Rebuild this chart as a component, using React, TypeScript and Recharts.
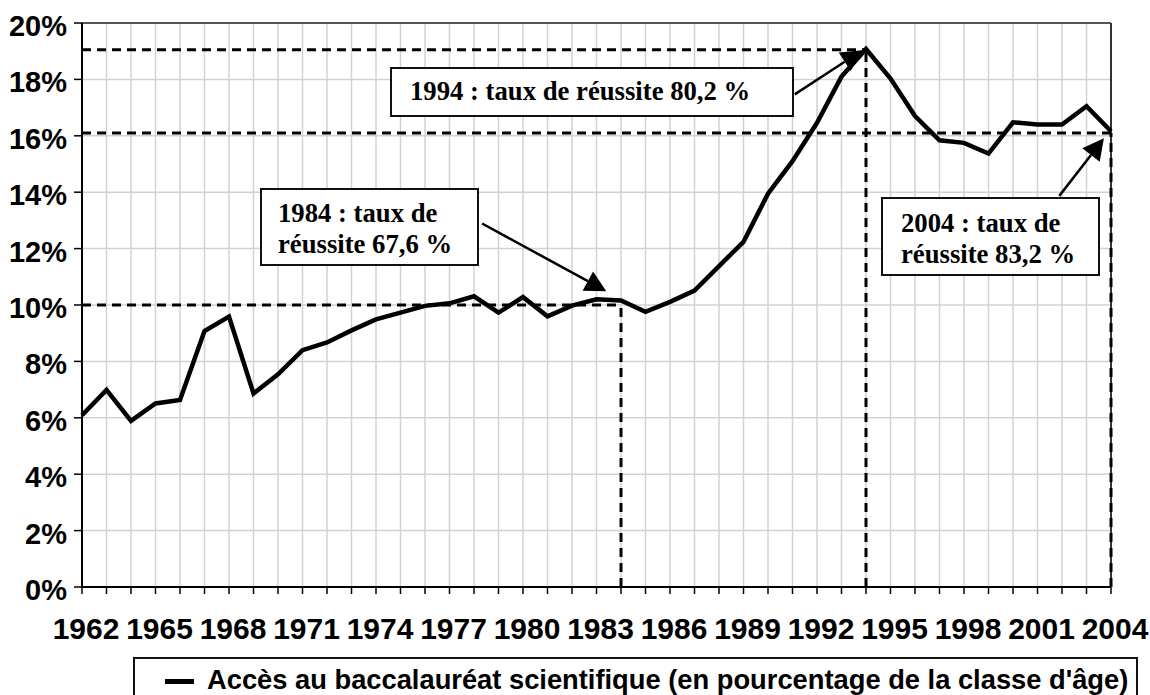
import { LineChart, Line, XAxis, YAxis, CartesianGrid, ReferenceLine } from 'recharts';

const years = [
  1962, 1963, 1964, 1965, 1966, 1967, 1968, 1969, 1970, 1971, 1972, 1973, 1974, 1975,
  1976, 1977, 1978, 1979, 1980, 1981, 1982, 1983, 1984, 1985, 1986, 1987, 1988, 1989,
  1990, 1991, 1992, 1993, 1994, 1995, 1996, 1997, 1998, 1999, 2000, 2001, 2002, 2003, 2004,
];
// accès au bac S, en % de la classe d'âge
const acces = [
  6.09, 6.99, 5.89, 6.51, 6.63, 9.08, 9.59, 6.86, 7.54, 8.4, 8.67, 9.1, 9.49, 9.73,
  9.97, 10.06, 10.31, 9.73, 10.28, 9.6, 9.98, 10.2, 10.16, 9.76, 10.11, 10.51, 11.38, 12.24,
  13.95, 15.1, 16.46, 18.1, 19.08, 18.03, 16.7, 15.84, 15.75, 15.37, 16.48, 16.4, 16.4, 17.05, 16.16,
];
const yTicks = [0, 2, 4, 6, 8, 10, 12, 14, 16, 18, 20];
const labelYears = [1962, 1965, 1968, 1971, 1974, 1977, 1980, 1983, 1986, 1989, 1992, 1995, 1998, 2001, 2004];

// repères pointillés
const markYears = [1984, 1994, 2004];
const markLevels = [10.0, 19.05, 16.1];

const note1984 = ['1984 : taux de', 'réussite 67,6 %'];
const note1994 = ['1994 : taux de réussite 80,2 %'];
const note2004 = ['2004 : taux de', 'réussite 83,2 %'];
const legendLabel = "Accès au baccalauréat scientifique (en pourcentage de la classe d'âge)";

const data = years.map((y, i) => ({ year: y, v: acces[i] }));

const sans = 'Liberation Sans, Arial, sans-serif';
const serif = 'Liberation Serif, "Times New Roman", serif';

const XTick = ({ x, y, payload }: any) =>
  labelYears.includes(payload.value) ? (
    <text x={x + 4} y={y} dy={45} textAnchor="middle" fontFamily={sans} fontWeight="bold" fontSize={30} fill="#000">
      {payload.value}
    </text>
  ) : null;

const YTick = ({ x, y, payload }: any) => (
  <text x={x} y={y} dy={13} textAnchor="end" fontFamily={sans} fontWeight="bold" fontSize={29} fill="#000">
    {payload.value}%
  </text>
);

const Arrow = (props: any) => {
  const { x1, y1, x2, y2 } = props;
  const dx = x2 - x1;
  const dy = y2 - y1;
  const len = Math.sqrt(dx * dx + dy * dy);
  const ux = dx / len;
  const uy = dy / len;
  const L = 21;
  const W = 11;
  const bx = x2 - ux * L;
  const by = y2 - uy * L;
  const pts = `${x2},${y2} ${bx - uy * W},${by + ux * W} ${bx + uy * W},${by - ux * W}`;
  return (
    <g>
      <line x1={x1} y1={y1} x2={bx} y2={by} stroke="#000" strokeWidth={2.5} />
      <polygon points={pts} fill="#000" />
    </g>
  );
};

const boxStyle = (left: number, top: number, width: number, height: number): any => ({
  position: 'absolute',
  left,
  top,
  width,
  height,
  boxSizing: 'border-box',
  border: '2px solid #111',
  background: '#fff',
  fontFamily: serif,
  fontWeight: 'bold',
  fontSize: 26.7,
  lineHeight: '31px',
  color: '#000',
  paddingLeft: 16,
  whiteSpace: 'nowrap',
});

const App = () => {
  const dash = { stroke: '#000', strokeWidth: 3, strokeDasharray: '9 6' };
  return (
    <div style={{ position: 'absolute', left: 0, top: 0, width: 1150, height: 695, background: '#fff', overflow: 'hidden' }}>
      <LineChart width={1150} height={695} data={data} margin={{ top: 23, right: 39, bottom: 0, left: 0 }}>
        <CartesianGrid stroke="#d2d2d2" strokeWidth={1.5} />
        <XAxis
          dataKey="year"
          type="number"
          domain={[1962, 2004]}
          ticks={years}
          interval={0}
          height={108}
          tickSize={7}
          tickMargin={0}
          tick={<XTick />}
          axisLine={{ stroke: '#000', strokeWidth: 2 }}
          tickLine={{ stroke: '#000', strokeWidth: 1.5 }}
        />
        <YAxis
          domain={[0, 20]}
          ticks={yTicks}
          width={82}
          tickSize={8}
          tickMargin={7}
          tick={<YTick />}
          axisLine={{ stroke: '#000', strokeWidth: 2 }}
          tickLine={{ stroke: '#000', strokeWidth: 1.5 }}
        />
        <ReferenceLine y={20} stroke="#555" strokeWidth={2} />
        <ReferenceLine x={2004} stroke="#333" strokeWidth={2} />
        {markYears.map((yr, i) => (
          <ReferenceLine key={'h' + yr} segment={[{ x: 1962, y: markLevels[i] }, { x: yr, y: markLevels[i] }]} {...dash} />
        ))}
        {markYears.map((yr, i) => (
          <ReferenceLine key={'v' + yr} segment={[{ x: yr, y: 0 }, { x: yr, y: markLevels[i] }]} {...dash} />
        ))}
        <Line type="linear" dataKey="v" stroke="#000" strokeWidth={4.5} dot={false} isAnimationActive={false} />
        <ReferenceLine segment={[{ x: 1978.33, y: 12.89 }, { x: 1983.4, y: 10.49 }]} shape={Arrow} />
        <ReferenceLine segment={[{ x: 1991.09, y: 17.47 }, { x: 1993.85, y: 19.03 }]} shape={Arrow} />
        <ReferenceLine segment={[{ x: 2001.89, y: 13.87 }, { x: 2003.71, y: 15.91 }]} shape={Arrow} />
      </LineChart>

      <div style={boxStyle(260, 188, 219, 78)}>
        <div style={{ paddingTop: 8 }}>
          {note1984.map((t) => (
            <div key={t}>{t}</div>
          ))}
        </div>
      </div>
      <div style={boxStyle(390, 67, 404, 50)}>
        <div style={{ paddingTop: 7, paddingLeft: 2 }}>{note1994[0]}</div>
      </div>
      <div style={boxStyle(881, 197, 219, 79)}>
        <div style={{ paddingTop: 9, paddingLeft: 2 }}>
          {note2004.map((t) => (
            <div key={t}>{t}</div>
          ))}
        </div>
      </div>

      <div
        style={{
          position: 'absolute',
          left: 133,
          top: 657,
          width: 1005,
          height: 60,
          boxSizing: 'border-box',
          border: '2px solid #111',
          background: '#fff',
          fontFamily: sans,
          fontWeight: 'bold',
          fontSize: 27.3,
          color: '#000',
          whiteSpace: 'nowrap',
        }}
      >
        <span style={{ position: 'absolute', left: 30, top: 20, width: 29, height: 5, background: '#000' }} />
        <span style={{ position: 'absolute', left: 72, top: 6, lineHeight: '30px' }}>{legendLabel}</span>
      </div>
    </div>
  );
};

export default App;
